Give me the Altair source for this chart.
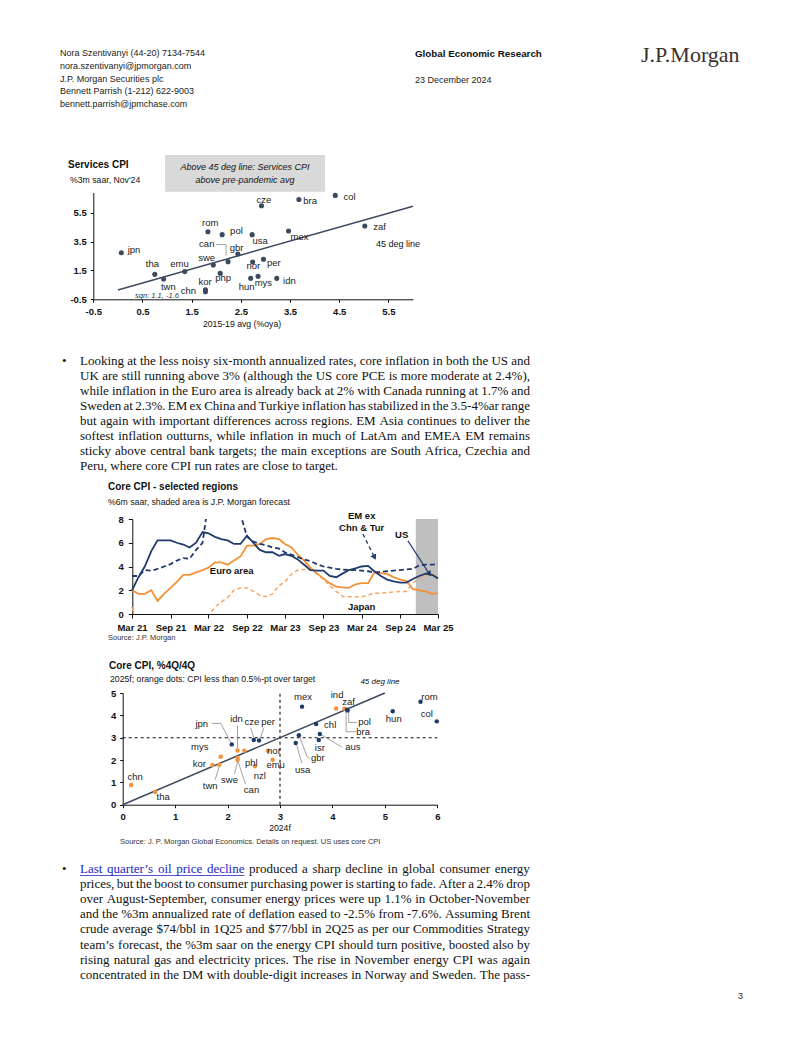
import altair as alt
import pandas as pd

# ---------------------------------------------------------------- styling
SANS = "Liberation Sans, Arial, Helvetica, sans-serif"
SERIF = "Liberation Serif, Times New Roman, Times, serif"
INK = "#111111"
SLATE = "#3d4a5e"
NAVY = "#203a6b"
ORANGE = "#f4923a"
ORANGE_DASH = "#f7a765"
GREY_BOX = "#d9d9d9"
SHADE = "#bfbfbf"
LEADER = "#8c8c8c"
LINK = "#2424c8"

PAGE_W = 786
TOP_A, TOP_B, TOP_C, BOTTOM = 8.0, 518.3, 613.3, 1029.0
H_A, H_B, H_C = TOP_B - TOP_A, TOP_C - TOP_B, BOTTOM - TOP_C

# ---------------------------------------------------------------- chart 1 data
svc_codes = ["jpn", "tha", "twn", "emu", "swe", "kor", "chn", "php", "rom", "pol", "can", "gbr",
             "usa", "cze", "bra", "col", "zaf", "mex", "nor", "per", "hun", "mys", "idn"]
svc_pre = [0.07, 0.75, 0.93, 1.36, 1.94, 1.78, 1.78, 2.08, 1.83, 2.12, 2.24, 2.44,
           2.73, 2.92, 3.68, 4.42, 5.02, 3.47, 2.74, 2.96, 2.70, 2.85, 3.23]
svc_now = [2.73, 1.23, 0.91, 1.42, 1.88, 0.15, 0.03, 1.30, 4.18, 3.98, 2.11, 2.64,
           3.98, 5.98, 6.42, 6.70, 4.58, 4.23, 2.08, 2.27, 0.95, 1.09, 0.95]
svc_lab_dx = [12.7, -2.3, 4.7, -5.3, -6.7, -0.3, -17, 3, 2.3, 14.3, -21.3, -1.3,
              8, 2.3, 11.3, 14.3, 14.7, 11, 0.7, 10.3, -4, 5.3, 12.7]
svc_lab_dy = [-2.7, -10, 7.7, -7.7, -7.3, -8.3, -0.7, 5, -9, -3.3, -17.3, -5.7,
              6, -5.7, 1.3, 2, 0.7, 6.3, 4, 4, 8.3, 7, 2.7]
svc_line_x = [0.0, 6.0]
svc_line_y = [0.15, 5.95]
svc_leaders = [("can", -12, -17, -2, -17), ("can", -2, -17, -2, -6)]

# ---------------------------------------------------------------- chart 2 data
months = pd.date_range("2021-03-01", periods=49, freq="MS").strftime("%Y-%m-%d").tolist()
us = [2.0, 3.1, 4.0, 5.3, 6.2, 6.2, 6.2, 6.0, 5.85, 5.6,
      6.0, 6.9, 6.8, 6.5, 6.3, 6.2, 5.9, 5.9, 6.6, 6.0, 5.4, 5.2,
      5.2, 4.9, 5.05, 4.9, 4.6, 4.15, 3.7, 3.65, 3.65, 3.2, 3.1, 3.4,
      3.7, 3.85, 4.0, 4.05, 3.6, 3.2, 2.9, 2.75, 2.65, 2.65, 2.95, 3.2,
      3.4, 3.3, 3.0]
em = [3.2, 3.2, 3.7, 3.65, 3.8, 4.0, 4.2, 4.5, 4.7, 4.65,
      5.4, 6.0, 9.5, 11.5, 12.0, 12.0, 11.0, 8.4, 6.5, 6.1, 5.9, 5.8,
      5.6, 5.5, 5.2, 5.0, 4.8, 4.6, 4.45, 4.2, 4.0, 3.9, 3.8, 3.75,
      3.7, 3.7, 3.65, 3.6, 3.5, 3.55, 3.6, 3.65, 3.7, 3.75, 3.8, 4.1,
      4.15, 4.15, 4.2]
euro = [2.0, 1.7, 1.7, 2.0, 1.1, 1.7, 2.2, 2.7, 3.3, 3.3,
        3.5, 3.7, 3.9, 4.35, 4.35, 4.15, 4.5, 4.85, 5.75, 5.75, 5.9, 6.3,
        6.4, 6.3, 5.9, 5.6, 5.0, 4.5, 3.9, 3.4, 3.0, 2.6, 2.3, 2.25,
        2.2, 2.5, 2.6, 2.6, 3.5, 3.45, 3.35, 3.1, 2.9, 2.8, 2.1, 2.0,
        1.9, 1.7, 1.75]
japan = [0.6, -1.5, -1.5, -1.2, -1.2, -1.0, -1.0, -1.2, -1.0, -0.8,
         -0.6, -0.3, -0.15, 0.6, 1.0, 1.4, 2.0, 2.2, 2.2, 1.9, 1.6, 1.45,
         1.7, 2.4, 2.7, 3.35, 3.7, 3.75, 3.75, 3.4, 2.9, 2.4, 1.9, 1.5,
         1.45, 1.45, 1.45, 1.6, 1.75, 1.75, 1.8, 1.85, 1.9, 1.9, 2.6, 3.0,
         3.2, 3.3, 3.3]
forecast_span = ["2024-11-15", "2025-03-01"]
arrow_start_date = ["2024-03-07", "2024-10-08"]
arrow_start_val = [6.74, 6.17]
arrow_end_date = ["2024-05-02", "2025-01-19"]
arrow_end_val = [4.77, 3.37]
arrow_dash = ["dash", "solid"]
arrow_angle = [333.4, 326.9]

# ---------------------------------------------------------------- chart 3 data
core_codes = ["chn", "tha", "kor", "twn", "mys", "swe", "can", "idn", "phl", "jpn", "cze", "per",
              "nzl", "nor", "emu", "usa", "gbr", "mex", "chl", "isr", "aus", "ind", "zaf", "pol",
              "bra", "hun", "rom", "col"]
core_2024 = [0.16, 0.62, 1.71, 1.84, 1.87, 2.19, 2.19, 2.19, 2.32, 2.08, 2.50, 2.60,
             2.52, 2.77, 2.86, 3.30, 3.36, 3.42, 3.69, 3.74, 3.76, 4.07, 4.23, 4.29,
             4.28, 5.15, 5.68, 5.99]
core_2025 = [0.88, 0.57, 1.78, 1.79, 2.15, 2.00, 2.09, 2.43, 2.42, 2.70, 2.90, 2.87,
             1.72, 2.41, 2.01, 2.76, 3.11, 4.39, 3.61, 2.90, 3.16, 4.31, 4.30, 4.22,
             4.25, 4.18, 4.61, 3.73]
core_near_target = [True, True, True, True, True, True, True, True, True, False, False, False,
                    True, True, True, False, False, False, False, False, False, True, True, False,
                    False, False, False, False]
core_lab_dx = [4, 8, -13, -9, -21, -8, 14, -1, 7, -30, -2, 9,
               5, 6, 3, 7, 19, 1, 14, 1, 33, 1, 4, 17,
               16, 1, 9, -10]
core_lab_dy = [-8, 5.5, -1, 21, -10, 20, 32, -31, 12, -20, -18, -19,
               10, 0.5, 5.5, 27, 23, -10, 1, 8, 13, -13, -7, 12,
               22, 8, -5, -7]
core_leaders = [("twn", -4, 15, 0, 2), ("swe", -3, 14, 0, 2), ("can", 8, 26, 0, 2),
                ("idn", 0, -25, 0, -2), ("jpn", -20, -21, -11, -21), ("jpn", -11, -21, -1, -2),
                ("cze", -3, -12, 0, -2), ("per", 5, -13, 1, -2), ("usa", 1, 2, 6, 20),
                ("gbr", 1, 2, 8, 21), ("gbr", 8, 21, 11, 23), ("aus", 2, 1, 22, 13),
                ("pol", 1, 2, 1, 12), ("pol", 1, 12, 9, 12), ("bra", -1, 2, -1, 22),
                ("bra", -1, 22, 9, 22)]
line45_x = [0.0, 5.0]
line45_y = [0.0, 5.0]
ref_level = 3.0

# ---------------------------------------------------------------- page texts
header_left = ["Nora Szentivanyi  (44-20) 7134-7544", "nora.szentivanyi@jpmorgan.com",
               "J.P. Morgan Securities plc", "Bennett Parrish  (1-212) 622-9003",
               "bennett.parrish@jpmchase.com"]
header_left_y = [53, 66, 78.5, 91, 104]
para1 = [
    "Looking at the less noisy six-month annualized rates, core inflation in both the US and",
    "UK are still running above 3% (although the US core PCE is more moderate at 2.4%),",
    "while inflation in the Euro area is already back at 2% with Canada running at 1.7% and",
    "Sweden at 2.3%. EM ex China and Turkiye inflation has stabilized in the 3.5-4%ar range",
    "but again with important differences across regions. EM Asia continues to deliver the",
    "softest inflation outturns, while inflation in much of LatAm and EMEA EM remains",
    "sticky above central bank targets; the main exceptions are South Africa, Czechia and",
    "Peru, where core CPI run rates are close to target.",
]
para2_link_words = 5  # "Last quarter's oil price decline" is a hyperlink
para2 = [
    "Last quarter\u2019s oil price decline produced a sharp decline in global consumer energy",
    "prices, but the boost to consumer purchasing power is starting to fade. After a 2.4% drop",
    "over August-September, consumer energy prices were up 1.1% in October-November",
    "and the %3m annualized rate of deflation eased to -2.5% from -7.6%. Assuming Brent",
    "crude average $74/bbl in 1Q25 and $77/bbl in 2Q25 as per our Commodities Strategy",
    "team\u2019s forecast, the %3m saar on the energy CPI should turn positive, boosted also by",
    "rising natural gas and electricity prices. The rise in November energy CPI was again",
    "concentrated in the DM with double-digit increases in Norway and Sweden. The pass-",
]

# Times / Liberation Serif advance widths (1/1000 em) used to justify the paragraphs
_TW = {" ": 250, "!": 333, '"': 408, "#": 500, "$": 500, "%": 833, "&": 778, "'": 180, "(": 333,
       ")": 333, "*": 500, "+": 564, ",": 250, "-": 333, ".": 250, "/": 278, ":": 278, ";": 278,
       "?": 444, "@": 921, "\u2019": 333}
_TW.update({d: 500 for d in "0123456789"})
_TW.update(dict(zip("ABCDEFGHIJKLMNOPQRSTUVWXYZ",
                    [722, 667, 667, 722, 611, 556, 722, 722, 333, 389, 722, 611, 889, 722, 722, 556,
                     722, 667, 556, 611, 722, 722, 944, 722, 722, 611])))
_TW.update(dict(zip("abcdefghijklmnopqrstuvwxyz",
                    [444, 500, 444, 500, 444, 333, 500, 500, 278, 278, 500, 278, 778, 500, 500, 500,
                     500, 333, 389, 278, 500, 500, 722, 500, 500, 444])))


def word_w(w, size):
    return sum(_TW.get(ch, 500) for ch in w) * size / 1000.0


def justify(lines, x0, x1, y0, step, size, justify_last):
    rows = []
    for i, line in enumerate(lines):
        words = line.split(" ")
        ws = [word_w(w, size) for w in words]
        last = i == len(lines) - 1
        if len(words) > 1 and (justify_last or not last):
            gap = (x1 - x0 - sum(ws)) / (len(words) - 1)
        else:
            gap = 250 * size / 1000.0
        x = x0
        for j, (w, wd) in enumerate(zip(words, ws)):
            rows.append((x, y0 + step * i, w, i, j, wd))
            x += wd + gap
    return rows


# ---------------------------------------------------------------- helpers
def page_text(rows, top, size, weight="normal", style="normal", font=SANS, color=INK, align="left"):
    df = pd.DataFrame({"px": [r[0] - 8 for r in rows],
                       "py": [r[1] - top for r in rows],
                       "t": [r[2] for r in rows]})
    return alt.Chart(df).mark_text(font=font, fontSize=size, fontWeight=weight, fontStyle=style,
                                   color=color, align=align, baseline="middle").encode(
        x=alt.X("px:Q", scale=None), y=alt.Y("py:Q", scale=None), text="t:N")


def page_rect(x0, y0, x1, y1, top, color):
    df = pd.DataFrame({"px": [x0 - 8], "py": [y0 - top], "px2": [x1 - 8], "py2": [y1 - top]})
    return alt.Chart(df).mark_rect(color=color).encode(
        x=alt.X("px:Q", scale=None), x2=alt.X2("px2"),
        y=alt.Y("py:Q", scale=None), y2=alt.Y2("py2"))


def page_hline(x0, x1, y, top, color, width=1.0):
    df = pd.DataFrame({"px": [x0 - 8], "px2": [x1 - 8], "py": [y - top]})
    return alt.Chart(df).mark_rule(color=color, strokeWidth=width).encode(
        x=alt.X("px:Q", scale=None), x2=alt.X2("px2"), y=alt.Y("py:Q", scale=None))


def axis(values, orient, offset, tick=3, pad=4, fmt=None, expr=None):
    kw = dict(values=values, orient=orient, offset=offset, title=None, grid=False,
              labelFont=SANS, labelFontSize=9.5, labelFontWeight="bold", labelColor=INK,
              domainColor=INK, domainWidth=1, tickColor=INK, tickWidth=1, tickSize=tick,
              labelPadding=pad, labelFlush=False, labelOverlap=False)
    if fmt:
        kw["format"] = fmt
    if expr:
        kw["labelExpr"] = expr
    return alt.Axis(**kw)


SIGNED_1F = "(datum.value < 0 ? '-' : '') + format(abs(datum.value), '.1f')"


def leaders_df(rows, codes, xs, ys):
    pos = {c: (x, y) for c, x, y in zip(codes, xs, ys)}
    return pd.DataFrame({"code": [r[0] for r in rows],
                         "x": [pos[r[0]][0] for r in rows], "y": [pos[r[0]][1] for r in rows],
                         "ox1": [r[1] for r in rows], "oy1": [r[2] for r in rows],
                         "ox2": [r[3] for r in rows], "oy2": [r[4] for r in rows]})


def leader_layer(df, X, Y):
    return alt.Chart(df).mark_rule(
        color=LEADER, strokeWidth=0.8,
        xOffset={"expr": "datum.ox1"}, yOffset={"expr": "datum.oy1"},
        x2Offset={"expr": "datum.ox2"}, y2Offset={"expr": "datum.oy2"}).encode(
        x=X, y=Y, x2=alt.X2("x"), y2=alt.Y2("y"))


# ================================================================ BAND A
X1 = alt.X("x:Q", scale=alt.Scale(domain=[-0.5, 6.0], range=[85.3, 405.0], nice=False, zero=False),
           axis=axis([-0.5, 0.5, 1.5, 2.5, 3.5, 4.5, 5.5], "bottom", 291.3 - H_A, expr=SIGNED_1F))
Y1 = alt.Y("y:Q", scale=alt.Scale(domain=[-0.5, 6.9], range=[291.3, 184.5], nice=False, zero=False),
           axis=axis([-0.5, 1.5, 3.5, 5.5], "left", -85.3, expr=SIGNED_1F))

svc = pd.DataFrame({"code": svc_codes, "x": svc_pre, "y": svc_now, "dx": svc_lab_dx, "dy": svc_lab_dy})
svc_line = pd.DataFrame({"x": svc_line_x, "y": svc_line_y})

c1_line = alt.Chart(svc_line).mark_line(color=SLATE, strokeWidth=1.5).encode(x=X1, y=Y1)
c1_lead = leader_layer(leaders_df(svc_leaders, svc_codes, svc_pre, svc_now), X1, Y1)
c1_pts = alt.Chart(svc).mark_circle(size=26, color=SLATE, opacity=1).encode(x=X1, y=Y1)
c1_lab = alt.Chart(svc).mark_text(font=SANS, fontSize=9.5, color="#222222",
                                  dx={"expr": "datum.dx"}, dy={"expr": "datum.dy"}).encode(
    x=X1, y=Y1, text="code:N")

p1_rows = justify(para1, 80, 530, 360.7, 15.04, 13, justify_last=False)

bandA_layers = [
    page_text([(60, y, t) for y, t in zip(header_left_y, header_left)], TOP_A, 9, color="#222222"),
    page_text([(415, 54, "Global Economic Research")], TOP_A, 9.8, weight="bold"),
    page_text([(415, 80, "23 December 2024")], TOP_A, 9, color="#222222"),
    page_text([(641, 55, "J.P.Morgan")], TOP_A, 22, font=SERIF, color="#3b302c"),
    # chart 1 frame texts
    page_text([(68, 164.5, "Services CPI")], TOP_A, 10, weight="bold"),
    page_text([(70, 179.5, "%3m saar, Nov'24")], TOP_A, 8.7),
    page_rect(165, 155, 325, 191.7, TOP_A, GREY_BOX),
    page_text([(245, 167, "Above 45 deg line: Services CPI"), (245, 179.5, "above pre-pandemic avg")],
              TOP_A, 9, style="italic", align="center"),
    page_text([(398, 243.5, "45 deg line")], TOP_A, 9, align="center"),
    page_text([(242, 323.5, "2015-19 avg (%oya)")], TOP_A, 8.7, align="center"),
    page_text([(157, 296, "sgn: 1.1, -1.6")], TOP_A, 7.5, style="italic", align="center", color="#333333"),
    c1_line, c1_lead, c1_pts, c1_lab,
    # paragraph 1 (justified)
    page_text([(62, 360.7, "\u2022")], TOP_A, 13, font=SERIF),
    page_text([(r[0], r[1], r[2]) for r in p1_rows], TOP_A, 13, font=SERIF),
    # chart 2 titles
    page_text([(108, 487, "Core CPI - selected regions")], TOP_A, 10, weight="bold"),
    page_text([(108, 502, "%6m saar, shaded area is J.P. Morgan forecast")], TOP_A, 8.7),
]
bandA = alt.layer(*bandA_layers).properties(width=PAGE_W, height=H_A)

# ================================================================ BAND B
ms = lambda d: int(pd.Timestamp(d, tz="UTC").value // 10**6)
tick_dates = ["2021-03-01", "2021-09-01", "2022-03-01", "2022-09-01", "2023-03-01",
              "2023-09-01", "2024-03-01", "2024-09-01", "2025-03-01"]
X2c = alt.X("date:T",
            scale=alt.Scale(type="utc", domain=[ms("2021-03-01"), ms("2025-03-01")],
                            range=[124.0, 430.0], nice=False),
            axis=axis([ms(d) for d in tick_dates], "bottom", 0, tick=4, pad=4,
                      expr="utcFormat(datum.value, '%b %y')"))
Y2c = alt.Y("v:Q", scale=alt.Scale(domain=[0, 8], range=[H_B, 0], nice=False, zero=False),
            axis=axis([0, 2, 4, 6, 8], "left", -124.3, tick=4, pad=5, fmt="d"))

shade = pd.DataFrame({"date": [forecast_span[0]], "date_end": [forecast_span[1]], "v": [0], "v2": [8]})
c2_shade = alt.Chart(shade).mark_rect(color=SHADE).encode(x=X2c, x2=alt.X2("date_end"), y=Y2c, y2=alt.Y2("v2"))


def series(vals, color, dash=None, width=1.8):
    df = pd.DataFrame({"date": months, "v": vals})
    kw = dict(color=color, strokeWidth=width, clip=True)
    if dash:
        kw["strokeDash"] = dash
    return alt.Chart(df).mark_line(**kw).encode(x=X2c, y=Y2c)


arrows = pd.DataFrame({"date": arrow_start_date, "v": arrow_start_val,
                       "date_end": arrow_end_date, "v_end": arrow_end_val,
                       "style": arrow_dash, "ang": arrow_angle})
c2_arrow_dash = alt.Chart(arrows[arrows["style"] == "dash"]).mark_rule(
    color=NAVY, strokeWidth=1.3, strokeDash=[4, 3]).encode(x=X2c, x2=alt.X2("date_end"), y=Y2c, y2=alt.Y2("v_end"))
c2_arrow_solid = alt.Chart(arrows[arrows["style"] == "solid"]).mark_rule(
    color=NAVY, strokeWidth=1.3).encode(x=X2c, x2=alt.X2("date_end"), y=Y2c, y2=alt.Y2("v_end"))
heads = pd.DataFrame({"date": arrow_end_date, "v": arrow_end_val, "ang": arrow_angle})
c2_heads = alt.Chart(heads).mark_point(shape="triangle-down", filled=True, size=40, color=NAVY, opacity=1,
                                       angle={"expr": "datum.ang"}).encode(x=X2c, y=Y2c)

bandB_layers = [
    c2_shade,
    series(japan, ORANGE_DASH, dash=[4, 3], width=1.5),
    series(euro, ORANGE),
    series(em, NAVY, dash=[5, 3]),
    series(us, NAVY),
    c2_arrow_dash, c2_arrow_solid, c2_heads,
    page_text([(231.7, 570, "Euro area"), (361.7, 515, "EM ex"), (361.7, 527.7, "Chn & Tur"),
               (401.7, 534.3, "US"), (361.7, 606.7, "Japan")], TOP_B, 9.5, weight="bold", align="center"),
]
bandB = alt.layer(*bandB_layers).properties(width=PAGE_W, height=H_B)

# ================================================================ BAND C
X3 = alt.X("x:Q", scale=alt.Scale(domain=[0, 6], range=[114.7, 429.3], nice=False, zero=False),
           axis=axis([0, 1, 2, 3, 4, 5, 6], "bottom", 190.7 - H_C, tick=3, fmt="d"))
Y3 = alt.Y("y:Q", scale=alt.Scale(domain=[0, 5], range=[190.7, 79.0], nice=False, zero=False),
           axis=axis([0, 1, 2, 3, 4, 5], "left", -114.7, tick=3, fmt="d"))

core = pd.DataFrame({"code": core_codes, "x": core_2024, "y": core_2025,
                     "grp": ["near" if f else "above" for f in core_near_target],
                     "dx": core_lab_dx, "dy": core_lab_dy})
refs = pd.DataFrame({"x": [ref_level, 0.0], "y": [0.0, ref_level], "x_end": [ref_level, 6.0], "y_end": [5.0, ref_level]})
diag = pd.DataFrame({"x": line45_x, "y": line45_y})

c3_refs = alt.Chart(refs).mark_rule(color=INK, strokeWidth=1.1, strokeDash=[3, 3]).encode(
    x=X3, x2=alt.X2("x_end"), y=Y3, y2=alt.Y2("y_end"))
c3_diag = alt.Chart(diag).mark_line(color=SLATE, strokeWidth=1.5).encode(x=X3, y=Y3)
c3_lead = leader_layer(leaders_df(core_leaders, core_codes, core_2024, core_2025), X3, Y3)
c3_pts = alt.Chart(core).mark_circle(size=20, opacity=1).encode(
    x=X3, y=Y3, color=alt.Color("grp:N", scale=alt.Scale(domain=["near", "above"], range=[ORANGE, NAVY]), legend=None))
c3_lab = alt.Chart(core).mark_text(font=SANS, fontSize=9.5, color="#222222",
                                   dx={"expr": "datum.dx"}, dy={"expr": "datum.dy"}).encode(
    x=X3, y=Y3, text="code:N")

p2_rows = justify(para2, 80, 530, 868.3, 15.1, 13, justify_last=True)
p2_link = [r for r in p2_rows if r[3] == 0 and r[4] < para2_link_words]
p2_plain = [r for r in p2_rows if not (r[3] == 0 and r[4] < para2_link_words)]
link_x0 = p2_link[0][0]
link_x1 = p2_link[-1][0] + p2_link[-1][5]

bandC_layers = [
    page_text([(108, 637.5, "Source: J.P. Morgan")], TOP_C, 7.5, color="#333333"),
    page_text([(109, 665, "Core CPI, %4Q/4Q")], TOP_C, 10, weight="bold"),
    page_text([(110, 678.3, "2025f; orange dots: CPI less than 0.5%-pt over target")], TOP_C, 8.7),
    page_text([(380, 681.7, "45 deg line")], TOP_C, 8, style="italic", align="center"),
    c3_refs, c3_diag, c3_lead, c3_pts, c3_lab,
    page_text([(280, 827.5, "2024f")], TOP_C, 8.7, align="center"),
    page_text([(120, 841.5, "Source: J. P. Morgan Global Economics. Details on request. US uses core CPI")],
              TOP_C, 7.5, color="#333333"),
    # paragraph 2 (justified, with hyperlink)
    page_text([(62, 868.3, "\u2022")], TOP_C, 13, font=SERIF),
    page_text([(r[0], r[1], r[2]) for r in p2_link], TOP_C, 13, font=SERIF, color=LINK),
    page_hline(link_x0, link_x1, 874.8, TOP_C, LINK, 0.8),
    page_text([(r[0], r[1], r[2]) for r in p2_plain], TOP_C, 13, font=SERIF),
    page_text([(743, 995, "3")], TOP_C, 9.5, align="right", color="#333333"),
]
bandC = alt.layer(*bandC_layers).properties(width=PAGE_W, height=H_C)

chart = alt.vconcat(bandA, bandB, bandC, spacing=0, bounds="flush").properties(padding=0).configure_view(
    stroke=None)

chart.save("out.html", embed_options={"renderer": "svg", "actions": False})
